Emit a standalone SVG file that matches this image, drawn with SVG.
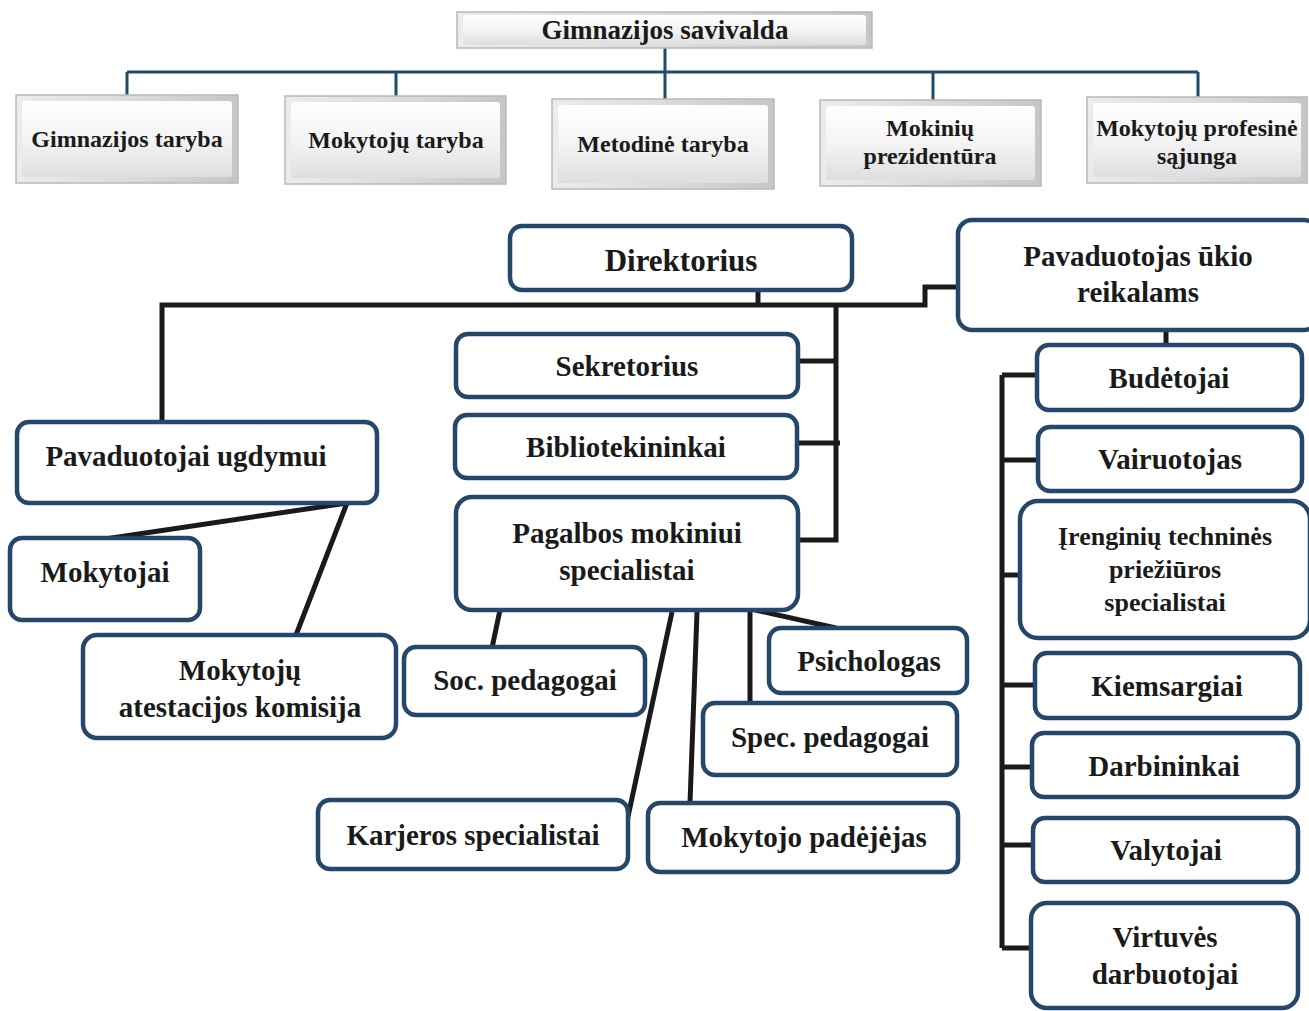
<svg xmlns="http://www.w3.org/2000/svg" width="1309" height="1011" viewBox="0 0 1309 1011">
<defs>
<linearGradient id="face" x1="0" y1="0" x2="0" y2="1">
<stop offset="0" stop-color="#ffffff"/>
<stop offset="0.55" stop-color="#f2f2f2"/>
<stop offset="1" stop-color="#dedede"/>
</linearGradient>
<linearGradient id="frame" x1="0" y1="0" x2="1" y2="0">
<stop offset="0" stop-color="#ececec"/>
<stop offset="0.5" stop-color="#dcdcdc"/>
<stop offset="1" stop-color="#c6c6c6"/>
</linearGradient>
<style>
text{font-family:"Liberation Serif","Times New Roman",serif;font-weight:bold;fill:#1a1a1a;text-anchor:middle}
.t24{font-size:24px}
.t27{font-size:27px}
.t29{font-size:29px}
.t26{font-size:26px}
.t31{font-size:31px}
.outer{fill:url(#frame);stroke:#b8b8b8;stroke-width:1.5}
.inner{fill:url(#face)}
.box{fill:#ffffff;stroke:#25476b;stroke-width:4.5}
.top{fill:none;stroke:#1f4c68;stroke-width:3}
.blk{fill:none;stroke:#1a1a1a;stroke-width:5}
</style>
</defs>
<rect width="1309" height="1011" fill="#ffffff"/>

<g id="connectors">
<path class="top" d="M665,48 V99 M127,72 H1198 M127,72 V95 M396,72 V96 M933,72 V100 M1198,72 V97"/>
<path class="blk" d="M162,422 V305 H925 V287 H958"/>
<path class="blk" d="M758,290 V305"/>
<path class="blk" d="M836,305 V540 H798"/>
<path class="blk" d="M798,361 H836"/>
<path class="blk" d="M798,443 H840"/>
<path class="blk" d="M347,503 L105,539 M347,503 L296,635"/>
<path class="blk" d="M500,610 L492,648 M672,612 L626,826 M697,612 L690,803 M750,612 V703 M755,610 L836,628"/>
<path class="blk" d="M1166,330 V345 M1002,375 V948 M1002,375 H1036 M1002,460 H1037 M1002,575 H1020 M1002,685 H1035 M1002,767 H1032 M1002,845 H1033 M1002,948 H1030"/>
</g>

<g id="gimnazijos-savivalda">
<rect class="outer" x="457" y="12" width="415" height="36"/>
<rect class="inner" x="463" y="15" width="403" height="30" rx="3"/>
<text class="t27" x="665" y="39">Gimnazijos savivalda</text>
</g>

<g id="gimnazijos-taryba">
<rect class="outer" x="16" y="95" width="222" height="88"/>
<rect class="inner" x="22" y="101" width="210" height="76" rx="3"/>
<text class="t24" x="127" y="147">Gimnazijos taryba</text>
</g>
<g id="mokytoju-taryba">
<rect class="outer" x="285" y="96" width="221" height="88"/>
<rect class="inner" x="291" y="102" width="209" height="76" rx="3"/>
<text class="t24" x="396" y="148">Mokytojų taryba</text>
</g>
<g id="metodine-taryba">
<rect class="outer" x="552" y="99" width="222" height="90"/>
<rect class="inner" x="558" y="105" width="210" height="78" rx="3"/>
<text class="t24" x="663" y="152">Metodinė taryba</text>
</g>
<g id="mokiniu-prezidentura">
<rect class="outer" x="820" y="100" width="221" height="86"/>
<rect class="inner" x="826" y="106" width="209" height="74" rx="3"/>
<text class="t24" x="930" y="136">Mokinių</text>
<text class="t24" x="930" y="164">prezidentūra</text>
</g>
<g id="mokytoju-profesine-sajunga">
<rect class="outer" x="1087" y="97" width="220" height="86"/>
<rect class="inner" x="1093" y="103" width="208" height="74" rx="3"/>
<text class="t24" x="1197" y="136">Mokytojų profesinė</text>
<text class="t24" x="1197" y="164">sąjunga</text>
</g>

<g id="direktorius">
<rect class="box" x="510" y="226" width="342" height="64" rx="12"/>
<text class="t31" x="681" y="271">Direktorius</text>
</g>
<g id="pavaduotojas-ukio">
<rect class="box" x="958" y="220" width="360" height="110" rx="14"/>
<text class="t29" x="1138" y="266">Pavaduotojas ūkio</text>
<text class="t29" x="1138" y="302">reikalams</text>
</g>
<g id="sekretorius">
<rect class="box" x="456" y="334" width="342" height="63" rx="12"/>
<text class="t29" x="627" y="376">Sekretorius</text>
</g>
<g id="bibliotekininkai">
<rect class="box" x="455" y="415" width="342" height="63" rx="12"/>
<text class="t29" x="626" y="457">Bibliotekininkai</text>
</g>
<g id="pagalbos-mokiniui">
<rect class="box" x="456" y="497" width="342" height="113" rx="16"/>
<text class="t29" x="627" y="543">Pagalbos mokiniui</text>
<text class="t29" x="627" y="580">specialistai</text>
</g>
<g id="pavaduotojai-ugdymui">
<rect class="box" x="17" y="422" width="360" height="81" rx="12"/>
<text class="t29" x="186" y="466">Pavaduotojai ugdymui</text>
</g>
<g id="mokytojai">
<rect class="box" x="10" y="538" width="190" height="82" rx="12"/>
<text class="t29" x="105" y="582">Mokytojai</text>
</g>
<g id="atestacijos-komisija">
<rect class="box" x="83" y="635" width="313" height="103" rx="14"/>
<text class="t29" x="240" y="680">Mokytojų</text>
<text class="t29" x="240" y="717">atestacijos komisija</text>
</g>
<g id="soc-pedagogai">
<rect class="box" x="404" y="647" width="241" height="68" rx="12"/>
<text class="t29" x="525" y="690">Soc. pedagogai</text>
</g>
<g id="psichologas">
<rect class="box" x="769" y="628" width="198" height="65" rx="12"/>
<text class="t29" x="869" y="671">Psichologas</text>
</g>
<g id="spec-pedagogai">
<rect class="box" x="703" y="703" width="254" height="72" rx="12"/>
<text class="t29" x="830" y="747">Spec. pedagogai</text>
</g>
<g id="karjeros-specialistai">
<rect class="box" x="318" y="800" width="310" height="69" rx="12"/>
<text class="t29" x="473" y="845">Karjeros specialistai</text>
</g>
<g id="mokytojo-padejejas">
<rect class="box" x="648" y="803" width="310" height="69" rx="12"/>
<text class="t29" x="804" y="847">Mokytojo padėjėjas</text>
</g>

<g id="budetojai">
<rect class="box" x="1037" y="345" width="265" height="65" rx="12"/>
<text class="t29" x="1169" y="388">Budėtojai</text>
</g>
<g id="vairuotojas">
<rect class="box" x="1038" y="427" width="264" height="64" rx="12"/>
<text class="t29" x="1170" y="469">Vairuotojas</text>
</g>
<g id="irenginiu">
<rect class="box" x="1020" y="501" width="290" height="137" rx="18"/>
<text class="t26" x="1165" y="545">Įrenginių techninės</text>
<text class="t26" x="1165" y="578">priežiūros</text>
<text class="t26" x="1165" y="611">specialistai</text>
</g>
<g id="kiemsargiai">
<rect class="box" x="1035" y="653" width="265" height="65" rx="12"/>
<text class="t29" x="1167" y="696">Kiemsargiai</text>
</g>
<g id="darbininkai">
<rect class="box" x="1032" y="733" width="266" height="64" rx="12"/>
<text class="t29" x="1164" y="776">Darbininkai</text>
</g>
<g id="valytojai">
<rect class="box" x="1033" y="818" width="265" height="64" rx="12"/>
<text class="t29" x="1166" y="860">Valytojai</text>
</g>
<g id="virtuves-darbuotojai">
<rect class="box" x="1031" y="903" width="267" height="105" rx="16"/>
<text class="t29" x="1165" y="947">Virtuvės</text>
<text class="t29" x="1165" y="984">darbuotojai</text>
</g>
</svg>
